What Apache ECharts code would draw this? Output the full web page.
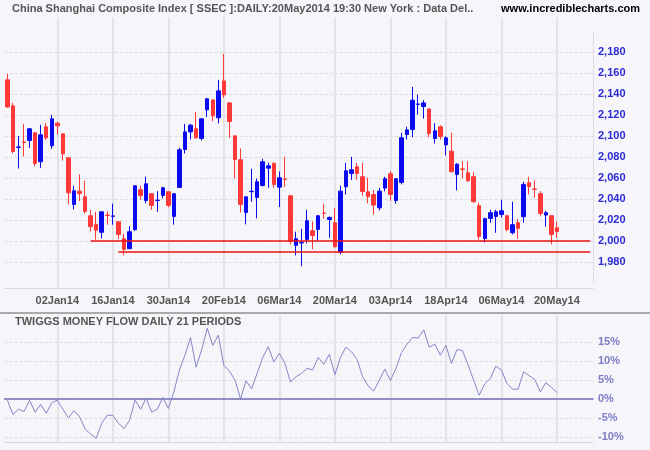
<!DOCTYPE html>
<html>
<head>
<meta charset="utf-8">
<script src="https://cdn.jsdelivr.net/npm/echarts@6/dist/echarts.min.js"></script>
<style>
html,body{margin:0;padding:0;background:#f6f6fa;}
#chart{width:650px;height:450px;}
</style>
</head>
<body>
<div id="chart"></div>
<script>
// ---- data ----
const dates = [
 '19Dec13','20Dec13','23Dec13','24Dec13','25Dec13','26Dec13','27Dec13','30Dec13','31Dec13',
 '02Jan14','03Jan14','06Jan14','07Jan14','08Jan14','09Jan14','10Jan14','13Jan14','14Jan14','15Jan14','16Jan14',
 '17Jan14','20Jan14','21Jan14','22Jan14','23Jan14','24Jan14','27Jan14','28Jan14','29Jan14','30Jan14',
 '07Feb14','10Feb14','11Feb14','12Feb14','13Feb14','14Feb14','17Feb14','18Feb14','19Feb14','20Feb14',
 '21Feb14','24Feb14','25Feb14','26Feb14','27Feb14','28Feb14',
 '03Mar14','04Mar14','05Mar14','06Mar14','07Mar14','10Mar14','11Mar14','12Mar14','13Mar14','14Mar14',
 '17Mar14','18Mar14','19Mar14','20Mar14','21Mar14','24Mar14','25Mar14','26Mar14','27Mar14','28Mar14','31Mar14',
 '01Apr14','02Apr14','03Apr14','04Apr14','08Apr14','09Apr14','10Apr14','11Apr14','14Apr14','15Apr14',
 '16Apr14','17Apr14','18Apr14','21Apr14','22Apr14','23Apr14','24Apr14','25Apr14','28Apr14','29Apr14','30Apr14',
 '05May14','06May14','07May14','08May14','09May14','12May14','13May14','14May14','15May14','16May14','19May14','20May14'
];
const padDates = ['21May14','22May14','23May14','26May14','27May14','28May14'];

const open = [
 2153.7,2128.9,2089.3,2094.5,2095.9,2103.2,2075.6,2108.9,2090.8,2112.4,
 2102.2,2079.4,2034.9,2047.6,2042.2,2024.1,2015.9,2008.3,2024.8,2023.6,
 2018.4,2002.2,1992.7,2010.8,2048.9,2038.7,2045.1,2038.6,2043.5,2047.0,
 2023.5,2051.1,2087.3,2104.1,2107.0,2097.8,2125.1,2134.6,2117.5,2152.7,
 2131.7,2100.3,2077.5,2027.3,2047.1,2041.6,2053.0,2069.5,2074.0,2051.4,
 2059.2,2043.2,1995.9,1998.2,2001.6,2009.8,2011.1,2026.8,2020.6,2017.5,
 1989.2,2051.7,2064.4,2070.8,2061.3,2047.0,2044.4,2031.7,2050.5,2064.1,
 2038.7,2055.9,2101.6,2106.3,2130.3,2128.3,2126.0,2097.8,2108.9,2091.7,
 2085.7,2063.5,2068.8,2065.1,2061.3,2033.7,2002.5,2021.6,2023.5,2025.4,
 2024.1,2007.9,2017.5,2023.2,2055.6,2049.7,2045.1,2024.8,2024.1,2012.7
];
const high = [
 2159.4,2131.7,2100.3,2111.7,2107.9,2103.5,2110.8,2112.7,2120.3,2113.7,
 2102.5,2079.5,2052.7,2063.5,2057.5,2029.8,2027.9,2028.0,2028.3,2035.6,
 2018.6,2007.0,2014.3,2053.0,2052.7,2061.3,2045.5,2047.6,2051.7,2047.3,
 2045.5,2088.9,2111.7,2111.7,2123.2,2117.0,2136.5,2135.0,2153.7,2178.4,
 2132.7,2100.5,2088.3,2042.5,2068.9,2059.7,2078.4,2074.6,2075.2,2066.3,
 2080.3,2043.5,2008.9,2011.7,2029.8,2018.7,2024.8,2035.6,2023.5,2031.7,
 2052.7,2074.6,2080.3,2074.6,2074.6,2060.3,2048.6,2050.8,2061.3,2066.7,
 2059.7,2103.2,2108.9,2147.0,2139.7,2134.3,2126.3,2112.4,2110.5,2100.0,
 2103.2,2074.3,2076.2,2076.2,2066.0,2036.5,2022.2,2029.8,2029.8,2039.4,
 2025.1,2037.5,2021.0,2056.5,2061.3,2057.8,2047.6,2028.9,2024.4,2018.4
];
const low = [
 2127.0,2083.5,2069.2,2080.6,2088.9,2071.1,2069.8,2096.2,2087.9,2101.6,
 2076.8,2034.9,2030.2,2038.1,2026.0,2009.2,2001.3,2002.5,2015.6,2015.6,
 2002.2,1986.3,1992.4,2009.8,2039.4,2035.9,2029.8,2027.9,2040.6,2032.1,
 2015.6,2050.5,2083.5,2096.8,2097.5,2095.9,2118.4,2114.3,2112.1,2136.5,
 2098.4,2059.7,2027.3,2015.9,2037.5,2021.6,2052.0,2050.8,2050.8,2032.4,
 2051.4,1996.8,1986.3,1975.9,1997.8,1992.1,2000.6,2021.3,2003.2,1993.7,
 1987.3,2044.4,2058.4,2058.4,2043.2,2035.9,2025.4,2029.2,2047.3,2038.4,
 2035.6,2054.0,2096.8,2099.0,2120.6,2116.8,2099.0,2093.0,2096.8,2081.6,
 2065.8,2048.3,2059.7,2056.5,2036.5,2001.3,1998.7,2017.5,2007.9,2022.5,
 2009.2,2006.3,2002.2,2017.5,2044.4,2041.3,2023.5,2013.7,1996.8,2003.2
];
const close = [
 2127.9,2085.4,2089.7,2094.1,2107.0,2074.0,2101.3,2098.4,2116.5,2109.8,
 2083.2,2046.0,2047.9,2045.4,2028.3,2013.7,2010.2,2027.9,2024.4,2024.0,
 2006.3,1992.1,2008.9,2052.7,2043.5,2054.6,2034.0,2039.0,2050.8,2034.0,
 2045.1,2087.0,2104.1,2110.5,2098.4,2116.5,2135.6,2119.4,2143.2,2139.4,
 2114.0,2077.8,2034.9,2042.2,2047.5,2056.5,2075.6,2071.7,2054.0,2060.3,
 2058.8,1999.7,2002.2,1998.6,2019.4,2005.4,2024.1,2026.5,2022.5,1994.6,
 2047.6,2067.0,2067.9,2064.4,2047.3,2042.2,2034.3,2047.6,2059.4,2044.4,
 2059.4,2098.4,2106.0,2134.3,2130.7,2131.7,2102.5,2105.1,2099.7,2098.4,
 2066.0,2073.3,2068.4,2057.5,2037.5,2004.4,2021.3,2027.0,2027.9,2028.9,
 2011.1,2015.6,2012.1,2054.0,2052.1,2049.3,2026.3,2027.0,2006.3,2009.2
];
// Twiggs Money Flow (%)
const tmf = [
 -0.3,-4.1,-2.7,-3.3,-0.4,-3.5,-1.4,-3.8,-1.0,-0.3,
 -2.7,-5.0,-3.1,-4.7,-7.9,-9.3,-10.4,-6.4,-4.3,-4.3,
 -6.4,-7.8,-5.7,-0.3,-2.7,0.2,-3.5,-2.7,0.4,-2.5,
 1.9,7.7,11.6,16.3,8.4,13.0,18.7,14.2,16.9,8.9,
 7.4,5.0,0.1,4.8,2.7,6.8,11.0,13.8,9.8,12.1,
 9.4,4.5,5.9,6.8,8.1,7.7,11.0,9.2,11.8,6.4,
 11.0,13.7,12.5,10.5,5.9,3.4,2.1,5.0,7.9,4.9,
 8.1,12.3,14.5,16.3,16.1,18.3,13.7,14.5,11.6,14.2,
 9.4,13.1,12.8,9.0,5.0,1.0,4.0,5.4,8.7,7.7,
 4.1,2.6,2.6,7.2,6.2,5.2,1.9,4.3,3.1,1.7
];
const priceTicks = [1980,2000,2020,2040,2060,2080,2100,2120,2140,2160,2180];
const tmfTicks = [-10,-5,0,5,10,15];
const supportLevels = [2000, 1990];
const supportFrom = [14.55, 19.55];

// ---- chart ----
const axisDates = dates.concat(padDates);
const lastIdx = axisDates.length - 1;
const showDate = (idx) => idx % 10 === 9 && idx < dates.length;
const ohlc = dates.map((d, i) => [open[i], close[i], low[i], high[i]]);

const gridColor = '#e2e2e8';
const font = 'Liberation Sans, Arial';
// helper axis that only extends the vertical date grid lines
const extender = (grid, len) => ({
  type: 'category', gridIndex: grid, data: axisDates, boundaryGap: true, position: 'top', offset: len,
  axisLine: {show: false, onZero: false}, axisLabel: {show: false}, splitLine: {show: false},
  axisTick: {show: true, inside: true, length: len, alignWithLabel: true, interval: showDate, lineStyle: {color: gridColor, width: 2}}
});

const chart = echarts.init(document.getElementById('chart'), null, {renderer: 'canvas'});
chart.setOption({
  backgroundColor: '#f6f6fa',
  animation: false,
  title: [
    {text: 'China Shanghai Composite Index [ SSEC ]:DAILY:20May2014 19:30 New York : Data Del..',
     left: 12, top: 3, padding: 0,
     textStyle: {fontFamily: font, fontSize: 11, fontWeight: 'bold', color: '#555'}},
    {text: 'www.incrediblecharts.com', right: 10, top: 3, padding: 0,
     textStyle: {fontFamily: font, fontSize: 11, fontWeight: 'bold', color: '#000'}},
    {text: 'TWIGGS MONEY FLOW DAILY 21 PERIODS', left: 15, top: 316, padding: 0,
     textStyle: {fontFamily: font, fontSize: 11, fontWeight: 'bold', color: '#555'}}
  ],
  graphic: [
    {type: 'rect', left: 0, top: 312, shape: {width: 650, height: 2}, style: {fill: '#aaaaaa'}, silent: true, z: 10}
  ],
  grid: [
    {left: 4.6, right: 57, top: 31.3, bottom: 167},
    {left: 4.6, right: 57, top: 323.4, bottom: 13.2}
  ],
  xAxis: [
    {type: 'category', gridIndex: 0, data: axisDates, boundaryGap: true, offset: 5,
     axisLine: {show: true, lineStyle: {color: '#d6d6dc', width: 1}},
     axisTick: {show: true, inside: true, length: 5, alignWithLabel: true, interval: showDate, lineStyle: {color: gridColor, width: 2}},
     axisLabel: {interval: showDate, margin: 7, fontFamily: font, fontSize: 11, fontWeight: 'bold', color: '#555'},
     splitLine: {show: true, interval: showDate, alignWithLabel: true, lineStyle: {color: gridColor, width: 2}}},
    {type: 'category', gridIndex: 1, data: axisDates, boundaryGap: true, position: 'bottom', offset: 5,
     axisLine: {show: true, onZero: false, lineStyle: {color: '#d6d6dc', width: 1}},
     axisTick: {show: true, inside: true, length: 5, alignWithLabel: true, interval: showDate, lineStyle: {color: gridColor, width: 2}},
     axisLabel: {show: false},
     splitLine: {show: true, interval: showDate, alignWithLabel: true, lineStyle: {color: gridColor, width: 2}}},
    {type: 'category', gridIndex: 1, data: axisDates, boundaryGap: true, position: 'top',
     axisLine: {show: true, onZero: true, lineStyle: {color: '#7272b6', width: 1.5}},
     axisTick: {show: false}, axisLabel: {show: false}, splitLine: {show: false}},
    extender(0, 14),
    extender(1, 9)
  ],
  yAxis: [
    {type: 'value', gridIndex: 0, position: 'right', min: 1960, max: 2200, interval: 20,
     axisLine: {show: true, lineStyle: {color: '#dcdce2'}}, axisTick: {show: false},
     axisLabel: {showMinLabel: false, showMaxLabel: false, margin: 5,
       fontFamily: font, fontSize: 11, fontWeight: 'bold', color: '#2a2ad6',
       formatter: (v) => priceTicks.includes(v) ? v.toLocaleString('en-US') : ''},
     splitLine: {show: true, showMinLine: false, showMaxLine: false, lineStyle: {color: '#dadadf', type: [3, 2], width: 1}}},
    {type: 'value', gridIndex: 1, position: 'right', min: -10, max: 20, interval: 5,
     axisLine: {show: false}, axisTick: {show: false},
     axisLabel: {showMaxLabel: false, margin: 5,
       fontFamily: font, fontSize: 11, fontWeight: 'bold', color: '#7c7cc6',
       formatter: (v) => tmfTicks.includes(v) ? v + '%' : ''},
     splitLine: {show: true, showMaxLine: false, lineStyle: {color: '#dadadf', type: [3, 2], width: 1}}}
  ],
  series: [
    {type: 'candlestick', xAxisIndex: 0, yAxisIndex: 0, data: ohlc, barWidth: 4,
     itemStyle: {color: '#0a0af0', color0: '#ff3838', borderColor: '#0a0af0', borderColor0: '#ff3838', borderWidth: 1},
     markLine: {silent: true, symbol: ['none', 'none'], label: {show: false},
       lineStyle: {color: '#e81010', width: 1.5, type: 'solid'},
       data: supportLevels.map((lv, k) => [{coord: [supportFrom[k], lv]}, {coord: [lastIdx, lv]}])}},
    {type: 'line', xAxisIndex: 1, yAxisIndex: 1, data: tmf, symbol: 'none', clip: false,
     lineStyle: {color: '#8585c9', width: 1}, itemStyle: {color: '#8585c9'}}
  ]
});
</script>
</body>
</html>
